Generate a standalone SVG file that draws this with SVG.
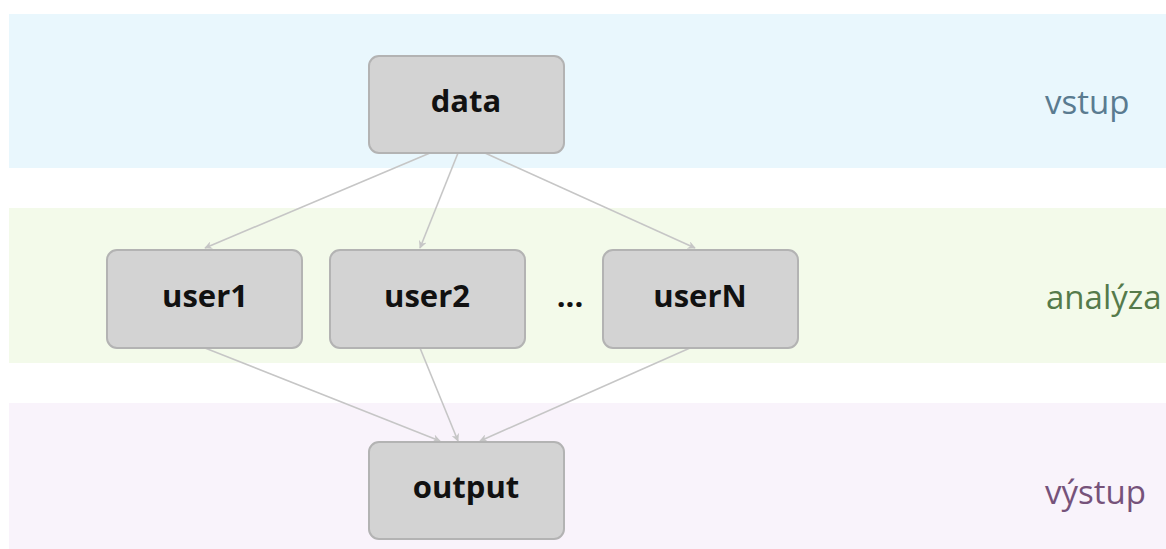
<svg xmlns="http://www.w3.org/2000/svg" width="1166" height="549" viewBox="0 0 1166 549">
<defs>
<style>
.node rect{fill:#d3d3d3;stroke:#b3b3b3;stroke-width:2}
.node text{font-family:"Open Sans","Noto Sans","DejaVu Sans",sans-serif;font-weight:bold;font-size:31px;fill:#111;text-anchor:middle}
.lbl{font-family:"Open Sans","Noto Sans","DejaVu Sans",sans-serif;font-size:33px}
.edge{stroke:#c6c6c6;stroke-width:1.6;fill:none;marker-end:url(#arr)}
</style>
<marker id="arr" viewBox="0 0 10 10" refX="9" refY="5" markerWidth="8" markerHeight="8" markerUnits="userSpaceOnUse" orient="auto">
<path d="M0,0 L10,5 L0,10 L3,5 Z" fill="#c6c6c6"/>
</marker>
</defs>
<rect width="1166" height="549" fill="#ffffff"/>
<g id="bands">
<rect x="9" y="14" width="1157" height="154" fill="#e9f7fd"/>
<rect x="9" y="208" width="1157" height="155" fill="#f3faea"/>
<rect x="9" y="403" width="1157" height="146" fill="#f9f3fb"/>
<text class="lbl" x="1045" y="114" fill="#5a7b90">vstup</text>
<text class="lbl" x="1046" y="309" fill="#557a4b">analýza</text>
<text class="lbl" x="1045" y="504" fill="#76527a">výstup</text>
</g>
<g id="connectors">
<line class="edge" x1="430" y1="153" x2="205" y2="248"/>
<line class="edge" x1="458" y1="153" x2="420" y2="248"/>
<line class="edge" x1="485" y1="153" x2="695" y2="248"/>
<line class="edge" x1="205" y1="348" x2="440" y2="441"/>
<line class="edge" x1="420" y1="348" x2="458" y2="441"/>
<line class="edge" x1="690" y1="348" x2="480" y2="441"/>
</g>
<g id="node-data" class="node"><rect x="369" y="56" width="195" height="97" rx="10"/><text x="466" y="112">data</text></g>
<g id="node-user1" class="node"><rect x="107" y="250" width="195" height="98" rx="10"/><text x="205" y="307">user1</text></g>
<g id="node-user2" class="node"><rect x="330" y="250" width="195" height="98" rx="10"/><text x="427" y="307">user2</text></g>
<text id="ellipsis" x="570" y="307" font-family="'Open Sans','Noto Sans',sans-serif" font-weight="bold" font-size="31" fill="#111" text-anchor="middle">...</text>
<g id="node-userN" class="node"><rect x="603" y="250" width="195" height="98" rx="10"/><text x="700" y="307">userN</text></g>
<g id="node-output" class="node"><rect x="369" y="442" width="195" height="97" rx="10"/><text x="466" y="498">output</text></g>
</svg>
